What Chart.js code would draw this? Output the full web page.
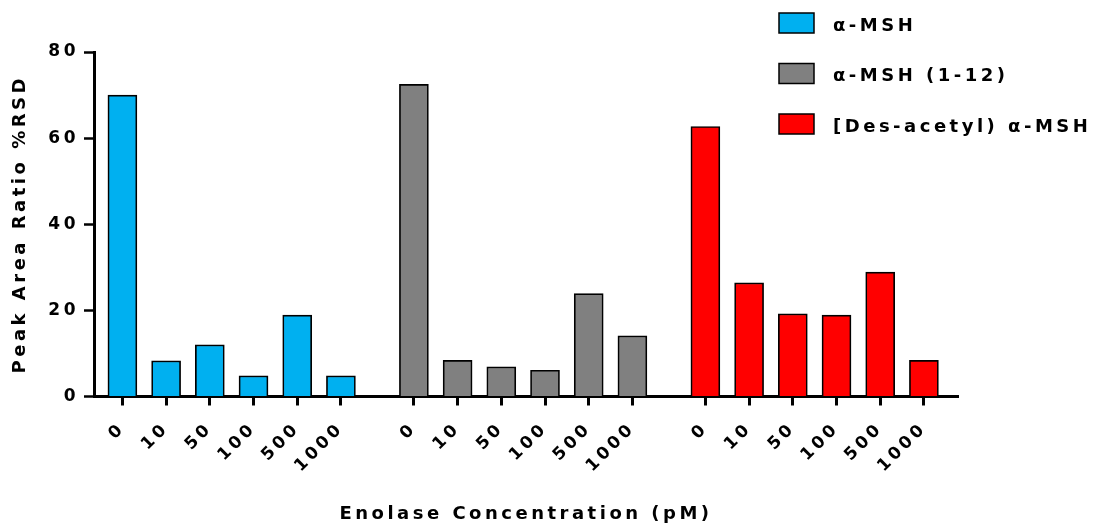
<!DOCTYPE html>
<html>
<head>
<meta charset="utf-8">
<script src="https://cdn.jsdelivr.net/npm/chart.js@4.4.0/dist/chart.umd.min.js"></script>
<style>
    html, body { margin: 0; padding: 0; background: #fff; }
    #contenedor { width: 1098px; height: 525px; }
</style>
</head>
<body>
<div id="contenedor"><canvas id="graficoBarras" width="1098" height="525"></canvas></div>
<script>
// Concentraciones de enolasa (pM), una barra por concentracion en cada grupo
const concentraciones = ['0', '10', '50', '100', '500', '1000'];

// %RSD de la relacion de areas de pico
const alfaMSH = [70, 8.3, 12.0, 4.8, 18.9, 4.8];
const alfaMSH112 = [72.5, 8.4, 6.9, 6.1, 23.9, 14.1];
const desacetilMSH = [62.7, 26.4, 19.2, 18.9, 28.9, 8.4];

const etiquetasSeries = ['α-MSH', 'α-MSH (1-12)', '[Des-acetyl) α-MSH'];
const ticksY = [0, 20, 40, 60, 80];

// hueco extra entre grupos (en unidades de barra)
const huecoGrupo = 0.67;
const FUENTE = '"DejaVu Sans", sans-serif';
const ESPACIO = '3.5px';

function posicion(grupo, i) {
    return grupo * (concentraciones.length + huecoGrupo) + i;
}

function puntos(grupo, valores) {
    return valores.map((v, i) => ({ x: posicion(grupo, i), y: v }));
}

const posicionesX = [0, 1, 2].flatMap(g => concentraciones.map((c, i) => posicion(g, i)));

// Texto espaciado + leyenda dibujada a mano arriba a la derecha
const espaciado = {
    id: 'espaciado',
    beforeUpdate(chart) { chart.ctx.letterSpacing = ESPACIO; },
    beforeDraw(chart) { chart.ctx.letterSpacing = ESPACIO; },
    afterDraw(chart) {
        const c = chart.ctx;
        c.save();
        c.letterSpacing = ESPACIO;
        c.font = 'bold 18px ' + FUENTE;
        c.textBaseline = 'middle';
        c.textAlign = 'left';
        chart.data.datasets.forEach(function (ds, k) {
            const y = 13 + k * 50.5;
            c.fillStyle = ds.backgroundColor;
            c.fillRect(779, y, 35, 20);
            c.lineWidth = 1.5;
            c.strokeStyle = '#000';
            c.strokeRect(779, y, 35, 20);
            c.fillStyle = '#000';
            c.fillText(ds.label, 833, y + 13);
        });
        c.restore();
    }
};

const ctx = document.getElementById('graficoBarras').getContext('2d');

function serie(label, color, grupo, valores) {
    return {
        label: label,
        data: puntos(grupo, valores),
        backgroundColor: color,
        borderColor: '#000',
        borderWidth: 1.7,
        borderSkipped: 'bottom',
        barThickness: 29,
        grouped: false
    };
}

var chart = new Chart(ctx, {
    type: 'bar',
    data: {
        datasets: [
            serie(etiquetasSeries[0], '#00B0F0', 0, alfaMSH),
            serie(etiquetasSeries[1], '#808080', 1, alfaMSH112),
            serie(etiquetasSeries[2], '#FF0000', 2, desacetilMSH)
        ]
    },
    options: {
        responsive: false,
        animation: false,
        devicePixelRatio: 1,
        layout: { padding: { top: 52, right: 140, left: 0, bottom: 0 } },
        plugins: {
            legend: { display: false },
            tooltip: { enabled: false }
        },
        scales: {
            x: {
                type: 'linear',
                min: -0.65,
                max: 19.12,
                offset: false,
                afterBuildTicks: function (eje) {
                    eje.ticks = posicionesX.map(v => ({ value: v }));
                },
                afterFit: function (eje) { eje.height = 128.5; },
                grid: {
                    display: true,
                    drawOnChartArea: false,
                    drawTicks: true,
                    tickLength: 9,
                    tickWidth: 3,
                    tickColor: '#000',
                    offset: false
                },
                border: { display: true, color: '#000', width: 3 },
                ticks: {
                    autoSkip: false,
                    maxRotation: 45,
                    minRotation: 45,
                    padding: 13,
                    color: '#000',
                    font: { family: FUENTE, size: 17, weight: 'bold' },
                    callback: function (v, i) { return concentraciones[i % concentraciones.length]; }
                },
                title: {
                    display: true,
                    text: 'Enolase Concentration (pM)',
                    color: '#000',
                    font: { family: FUENTE, size: 18, weight: 'bold' },
                    padding: { top: 0, bottom: 0 }
                }
            },
            y: {
                min: 0,
                max: 80,
                afterBuildTicks: function (eje) {
                    eje.ticks = ticksY.map(v => ({ value: v }));
                },
                afterFit: function (eje) { eje.width = 94; },
                grid: {
                    display: true,
                    drawOnChartArea: false,
                    drawTicks: true,
                    tickLength: 10,
                    tickWidth: 2.5,
                    tickColor: '#000'
                },
                border: { display: true, color: '#000', width: 3 },
                ticks: {
                    padding: 5,
                    color: '#000',
                    font: { family: FUENTE, size: 17, weight: 'bold' }
                },
                title: {
                    display: true,
                    text: 'Peak Area Ratio %RSD',
                    color: '#000',
                    font: { family: FUENTE, size: 18, weight: 'bold' },
                    padding: { top: 10, bottom: 0 }
                }
            }
        }
    },
    plugins: [espaciado]
});
</script>
</body>
</html>
